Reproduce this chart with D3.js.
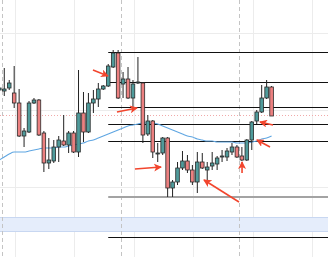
<!doctype html>
<html>
<head>
<style>
  body { margin: 0; background: #ffffff; }
  svg { display: block; }
</style>
<script src="https://d3js.org/d3.v7.min.js"></script>
</head>
<body>
<svg width="328" height="257"></svg>
<script>

    // hourly candles, first one starts 2024-03-04 23:00
    var openP  = [1.1910,1.1909,1.1912,1.1907,1.1897,1.1864,1.1868,1.1897,1.1900,1.1867,1.1837,1.1839,1.1853,1.1859,1.1855,1.1867,1.1848,1.1887,1.1868,1.1897,1.1901,1.1911,1.1914,1.1933,1.1947,
                  1.1916,1.1921,1.1902,1.1917,1.1917,1.1866,1.1879,1.1846,1.1847,1.1862,1.1812,1.1818,1.1832,1.1839,1.1830,1.1818,1.1838,1.1830,1.1834,1.1836,1.1843,1.1843,1.1848,1.1853,
                  1.1844,1.1840,1.1860,1.1879,1.1888,1.1902,1.1913];
    var highP  = [1.1915,1.1932,1.1920,1.1934,1.1911,1.1872,1.1899,1.1902,1.1901,1.1869,1.1862,1.1860,1.1864,1.1885,1.1869,1.1869,1.1930,1.1908,1.1907,1.1910,1.1917,1.1915,1.1936,1.1950,1.1950,
                  1.1928,1.1933,1.1920,1.1943,1.1918,1.1885,1.1880,1.1857,1.1863,1.1863,1.1820,1.1838,1.1849,1.1845,1.1835,1.1848,1.1847,1.1838,1.1848,1.1844,1.1850,1.1852,1.1857,1.1855,
                  1.1853,1.1861,1.1879,1.1890,1.1915,1.1920,1.1914];
    var lowP   = [1.1908,1.1904,1.1910,1.1892,1.1863,1.1853,1.1867,1.1896,1.1864,1.1828,1.1831,1.1837,1.1838,1.1854,1.1847,1.1847,1.1843,1.1858,1.1867,1.1887,1.1893,1.1910,1.1913,1.1932,1.1901,
                  1.1902,1.1901,1.1890,1.1916,1.1857,1.1864,1.1842,1.1838,1.1845,1.1803,1.1803,1.1815,1.1830,1.1827,1.1815,1.1807,1.1831,1.1820,1.1830,1.1830,1.1838,1.1839,1.1845,1.1842,
                  1.1839,1.1839,1.1850,1.1876,1.1887,1.1901,1.1884];
    var closeP = [1.1912,1.1911,1.1917,1.1897,1.1864,1.1869,1.1897,1.1900,1.1865,1.1837,1.1840,1.1853,1.1860,1.1855,1.1867,1.1848,1.1887,1.1868,1.1897,1.1901,1.1911,1.1914,1.1934,1.1947,1.1902,
                  1.1921,1.1902,1.1916,1.1918,1.1865,1.1879,1.1848,1.1847,1.1862,1.1812,1.1818,1.1832,1.1839,1.1830,1.1818,1.1838,1.1832,1.1833,1.1837,1.1842,1.1844,1.1849,1.1853,1.1843,
                  1.1840,1.1860,1.1878,1.1888,1.1902,1.1913,1.1884];
    var maP    = [1.1840,1.1843,1.1846,1.1848,1.1848,1.1848,1.1849,1.1850,1.1851,1.1852,1.1852,1.1852,1.1853,1.1853,1.1854,1.1855,1.1856,1.1857,1.1859,1.1860,1.1862,1.1864,1.1866,1.1868,1.1870,
                  1.1872,1.1874,1.1875,1.1876,1.1877,1.1877,1.1877,1.1876,1.1874,1.1872,1.1870,1.1868,1.1866,1.1864,1.1863,1.1861,1.1860,1.1859,1.1859,1.1858,1.1858,1.1858,1.1858,1.1857,
                  1.1857,1.1857,1.1858,1.1859,1.1861,1.1862,1.1864];

    var levels      = [1.1948, 1.1918, 1.1893, 1.1876, 1.1859, 1.1763];
    var greyLevel   = 1.1803;
    var levelStart  = "2024-03-05 21:30";
    var lastPrice   = 1.1885;
    var zoneLevels  = [1.1783, 1.1769];
    var gridPrices  = [1.1967, 1.1890, 1.1813];
    var gridTimes   = ["2024-03-05 02:40","2024-03-05 14:40","2024-03-06 02:40","2024-03-06 14:40","2024-03-07 02:40","2024-03-07 14:40"];
    var sessions    = ["2024-03-05 00:00","2024-03-06 00:00","2024-03-07 00:00"];

    // hand drawn arrows: [tail time, tail price, head time, head price]
    var arrows = [
        ["2024-03-05 18:25", 1.1930, "2024-03-05 21:27", 1.1924],
        ["2024-03-05 23:16", 1.1888, "2024-03-06 03:19", 1.1892],
        ["2024-03-06 02:54", 1.1831, "2024-03-06 08:10", 1.1833],
        ["2024-03-06 23:55", 1.1798, "2024-03-06 16:51", 1.1820],
        ["2024-03-07 00:32", 1.1827, "2024-03-07 00:32", 1.1838],
        ["2024-03-07 06:11", 1.1853, "2024-03-07 03:33", 1.1860],
        ["2024-03-07 06:47", 1.1875, "2024-03-07 04:10", 1.1878]
    ];

    var svg = d3.select("svg"),
        width = +svg.attr("width"),
        height = +svg.attr("height");

    var parse = d3.timeParse("%Y-%m-%d %H:%M");
    var first = parse("2024-03-04 23:00");
    var times = d3.timeHour.range(first, d3.timeHour.offset(first, openP.length));

    var data = times.map(function(t, i) {
        return { t: t, o: openP[i], h: highP[i], l: lowP[i], c: closeP[i], ma: maP[i] };
    });

    var x = d3.scaleTime()
        .domain([parse("2024-03-05 00:00"), parse("2024-03-07 00:00")])
        .range([1.8, 239.4]);
    var y = d3.scaleLinear().domain([1.1743, 1.2000]).range([height, 0]);

    function cx(d) { return x(d3.timeMinute.offset(d.t, 30)); }
    function crisp(v) { return Math.round(v) + 0.5; }

    // background grid
    svg.selectAll(".vgrid").data(gridTimes).enter().append("line")
       .attr("x1", function(d) { return crisp(x(parse(d))); })
       .attr("x2", function(d) { return crisp(x(parse(d))); })
       .attr("y1", 0).attr("y2", height)
       .attr("stroke", "#ececec");
    svg.selectAll(".hgrid").data(gridPrices).enter().append("line")
       .attr("x1", 0).attr("x2", width)
       .attr("y1", function(d) { return crisp(y(d)); })
       .attr("y2", function(d) { return crisp(y(d)); })
       .attr("stroke", "#ececec");

    // zone band
    svg.append("rect")
       .attr("x", -1).attr("width", width + 2)
       .attr("y", crisp(y(zoneLevels[0])))
       .attr("height", Math.round(y(zoneLevels[1]) - y(zoneLevels[0])))
       .attr("fill", "#e5edfb")
       .attr("stroke", "#c8d7f1");

    // last price dotted
    svg.append("line")
       .attr("x1", 0).attr("x2", width)
       .attr("y1", crisp(y(lastPrice))).attr("y2", crisp(y(lastPrice)))
       .attr("stroke", "#f1a9a9")
       .attr("stroke-dasharray", "1,2");

    // session separators
    svg.selectAll(".sess").data(sessions).enter().append("line")
       .attr("x1", function(d) { return crisp(x(parse(d))); })
       .attr("x2", function(d) { return crisp(x(parse(d))); })
       .attr("y1", 0).attr("y2", height)
       .attr("stroke", "#c4c4c4")
       .attr("stroke-dasharray", "4,3");

    // horizontal levels
    var lx = x(parse(levelStart));
    svg.append("line")
       .attr("x1", lx).attr("x2", width)
       .attr("y1", Math.round(y(greyLevel))).attr("y2", Math.round(y(greyLevel)))
       .attr("stroke", "#a3a3a3").attr("stroke-width", 2);
    svg.selectAll(".level").data(levels).enter().append("line")
       .attr("x1", lx).attr("x2", width)
       .attr("y1", function(d) { return crisp(y(d)); })
       .attr("y2", function(d) { return crisp(y(d)); })
       .attr("stroke", "#111").attr("stroke-width", 1.2);

    // moving average
    svg.append("path")
       .datum(data)
       .attr("fill", "none")
       .attr("stroke", "#5fa6e2")
       .attr("stroke-width", 1.1)
       .attr("d", d3.line().curve(d3.curveMonotoneX)
            .x(cx)
            .y(function(d) { return y(d.ma); }));

    // candles
    var candle = svg.selectAll(".candle").data(data).enter().append("g");
    candle.append("line")
       .attr("x1", cx).attr("x2", cx)
       .attr("y1", function(d) { return y(d.h); })
       .attr("y2", function(d) { return y(d.l); })
       .attr("stroke", "#222");
    candle.append("rect")
       .attr("x", function(d) { return cx(d) - 1.8; })
       .attr("width", 3.6)
       .attr("y", function(d) { return y(Math.max(d.o, d.c)); })
       .attr("height", function(d) { return Math.max(1, Math.abs(y(d.o) - y(d.c))); })
       .attr("fill", function(d) { return d.c >= d.o ? "#4f9b9b" : "#ec8080"; })
       .attr("stroke", "#2a2a2a")
       .attr("stroke-width", 0.8);

    // arrows
    var red = "#f2452d";
    svg.append("defs").append("marker")
       .attr("id", "head")
       .attr("viewBox", "0 0 8 8")
       .attr("refX", 7).attr("refY", 4)
       .attr("markerWidth", 8).attr("markerHeight", 8)
       .attr("markerUnits", "userSpaceOnUse")
       .attr("orient", "auto")
       .append("path")
       .attr("d", "M0,0 L8,4 L0,8 L2,4 Z")
       .attr("fill", red);

    svg.selectAll(".arrow").data(arrows).enter().append("line")
       .attr("x1", function(d) { return x(parse(d[0])); })
       .attr("y1", function(d) { return y(d[1]); })
       .attr("x2", function(d) { return x(parse(d[2])); })
       .attr("y2", function(d) { return y(d[3]); })
       .attr("stroke", red)
       .attr("stroke-width", 1.6)
       .attr("marker-end", "url(#head)");
</script>
</body>
</html>
